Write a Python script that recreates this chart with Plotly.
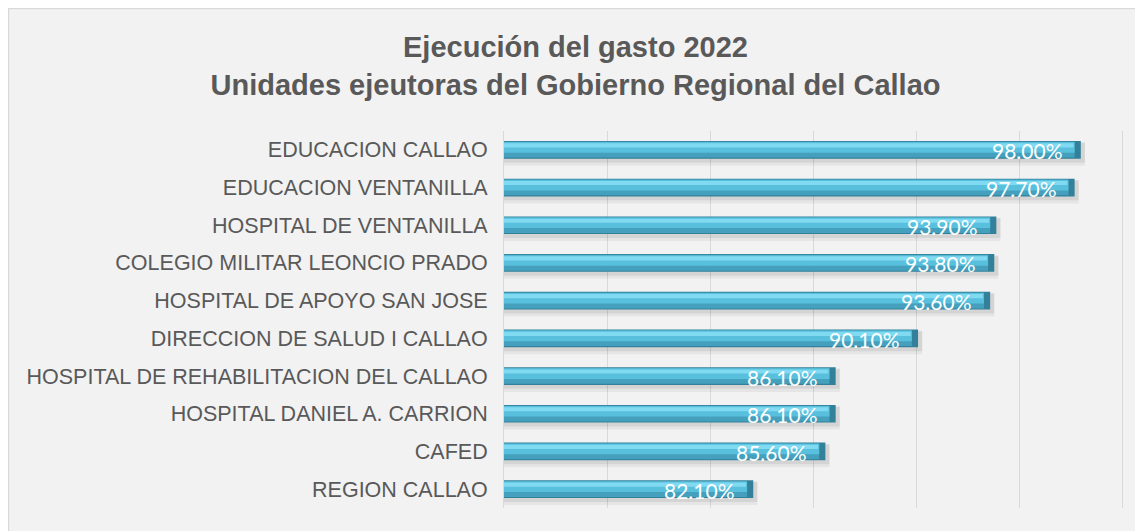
import plotly.graph_objects as go

unidades = [
    "EDUCACION CALLAO",
    "EDUCACION VENTANILLA",
    "HOSPITAL DE VENTANILLA",
    "COLEGIO MILITAR LEONCIO PRADO",
    "HOSPITAL DE APOYO SAN JOSE",
    "DIRECCION DE SALUD I CALLAO",
    "HOSPITAL DE REHABILITACION DEL CALLAO",
    "HOSPITAL DANIEL A. CARRION",
    "CAFED",
    "REGION CALLAO",
]
ejecucion = [98.00, 97.70, 93.90, 93.80, 93.60, 90.10, 86.10, 86.10, 85.60, 82.10]

# the page body has an 8px margin, so the figure starts at (8, 8)
W, H = 1135, 523
L, T = 496, 123
R, B = 21, 23
x_min, x_max = 70, 100

fig = go.Figure()

# sombra difusa debajo de cada barra
for w, off, col in [(0.60, -0.18, "rgba(0,0,0,0.05)"), (0.54, -0.20, "rgba(0,0,0,0.07)")]:
    fig.add_bar(y=unidades, x=[v + 0.2 for v in ejecucion], orientation="h",
                width=w, offset=off, marker=dict(color=col, line_width=0),
                hoverinfo="skip", showlegend=False)

# capas del efecto biselado
capas = [
    (0.47, -0.235, "#32809a", 0.0),
    (0.42, -0.215, "#44a0bc", 0.30),
    (0.28, -0.205, "#58bfdc", 0.30),
    (0.11, -0.175, "#80daf1", 0.35),
]
for w, off, col, recorte in capas:
    fig.add_bar(y=unidades, x=[v - recorte for v in ejecucion], orientation="h",
                width=w, offset=off, marker=dict(color=col, line_width=0),
                hoverinfo="skip", showlegend=False)

for u, v in zip(unidades, ejecucion):
    fig.add_annotation(x=v, y=u, text=f"{v:.2f}%", showarrow=False,
                       xanchor="right", xshift=-16, yshift=-1,
                       font=dict(family="Lato", size=21, color="white"))

def px_x(p):
    return (p - L) / (W - L - R)

def px_y(p):
    return (H - B - p) / (H - T - B)

fig.add_shape(type="rect", xref="paper", yref="paper",
              x0=px_x(0.5), x1=px_x(W + 10), y0=px_y(H + 10), y1=px_y(0.5),
              fillcolor="#f2f2f2", line=dict(color="#d9d9d9", width=1.5),
              layer="below")

fig.update_layout(
    width=W, height=H,
    margin=dict(l=L, r=R, t=T, b=B),
    paper_bgcolor="white",
    plot_bgcolor="rgba(0,0,0,0)",
    barmode="overlay",
    title=dict(
        text="<b>Ejecución del gasto 2022<br>Unidades ejeutoras del Gobierno Regional del Callao</b>",
        x=0.5, xref="container", y=1 - 49 / H, yanchor="top",
        font=dict(family="Liberation Sans, Arial", size=29, color="#595959"),
    ),
    xaxis=dict(range=[x_min, x_max], dtick=5, showticklabels=False,
               showgrid=True, gridcolor="#d9d9d9", gridwidth=1, zeroline=False),
    yaxis=dict(autorange="reversed", categoryorder="array", categoryarray=unidades,
               showline=True, mirror=True, linecolor="#d9d9d9", ticks="", ticklen=0,
               ticklabelstandoff=11,
               tickfont=dict(family="Liberation Sans, Arial", size=21.5, color="#595959"),
               showgrid=False, automargin=False),
    font=dict(family="Liberation Sans, Arial"),
)

fig.write_html("out.html")
